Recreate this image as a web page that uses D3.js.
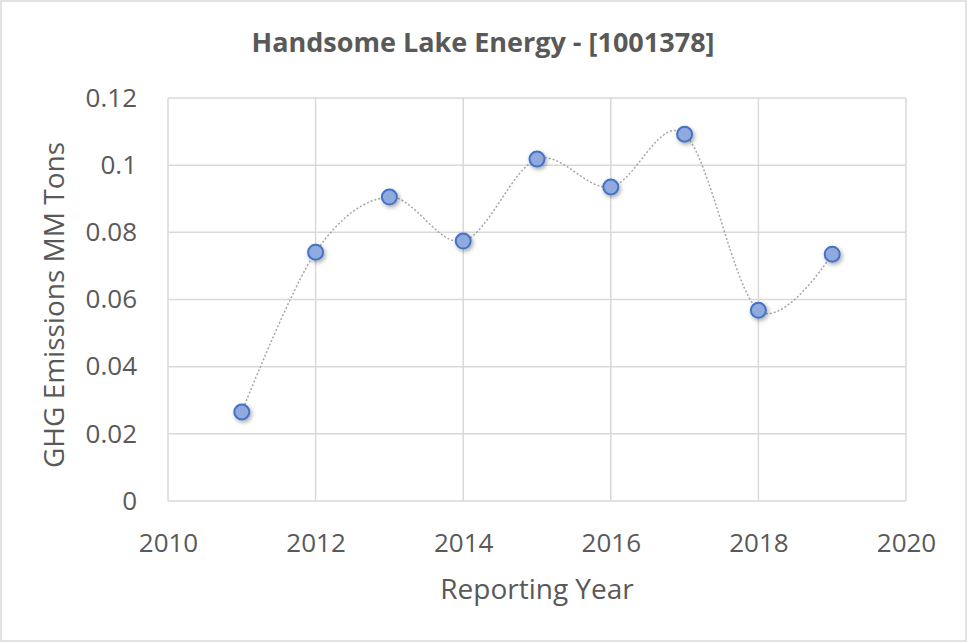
<!DOCTYPE html>
<html>
<head>
<meta charset="utf-8">
<script src="https://cdn.jsdelivr.net/npm/d3@7"></script>
<style>
  body { margin: 0; background: #fff; }
  text { font-family: "Open Sans", sans-serif; fill: #595959; }
</style>
</head>
<body>
<svg id="drawing_region"></svg>
<script>
const years = [2011, 2012, 2013, 2014, 2015, 2016, 2017, 2018, 2019];
const emissions = [0.0265, 0.0741, 0.0905, 0.0774, 0.1018, 0.0935, 0.1092, 0.0568, 0.0735];
const xTicks = [2010, 2012, 2014, 2016, 2018, 2020];
const yTicks = [0, 0.02, 0.04, 0.06, 0.08, 0.1, 0.12];

const config = {
    parent: '#drawing_region',
    width: 968,
    height: 643,
    margin: {top: 98, right: 62, bottom: 142, left: 168}
};

const svg = d3.select(config.parent)
    .attr('width', config.width)
    .attr('height', config.height);

svg.append('rect')
    .attr('x', 1).attr('y', 1)
    .attr('width', config.width - 3).attr('height', config.height - 3)
    .attr('fill', '#fff')
    .attr('stroke', '#d9d9d9')
    .attr('stroke-width', 1.5);

const defs = svg.append('defs');
const f = defs.append('filter').attr('id', 'shadow')
    .attr('x', '-50%').attr('y', '-50%').attr('width', '200%').attr('height', '200%');
f.append('feDropShadow')
    .attr('dx', 1.5).attr('dy', 2).attr('stdDeviation', 2)
    .attr('flood-color', '#000').attr('flood-opacity', 0.35);

const inner_w = config.width - config.margin.left - config.margin.right;
const inner_h = config.height - config.margin.top - config.margin.bottom;

const chart = svg.append('g')
    .attr('transform', `translate(${config.margin.left}, ${config.margin.top})`);

const xscale = d3.scaleLinear().domain([2010, 2020]).range([0, inner_w]);
const yscale = d3.scaleLinear().domain([0, 0.12]).range([inner_h, 0]);

// grid
chart.selectAll('.hgrid')
    .data(yTicks)
    .enter()
    .append('line')
    .attr('x1', 0).attr('x2', inner_w)
    .attr('y1', d => yscale(d)).attr('y2', d => yscale(d))
    .attr('stroke', '#d9d9d9')
    .attr('stroke-width', 1.5);

chart.selectAll('.vgrid')
    .data(xTicks)
    .enter()
    .append('line')
    .attr('x1', d => xscale(d)).attr('x2', d => xscale(d))
    .attr('y1', 0).attr('y2', inner_h)
    .attr('stroke', '#d9d9d9')
    .attr('stroke-width', 1.5);

// axes
const xaxis = d3.axisBottom(xscale).tickValues(xTicks).tickFormat(d3.format('d')).tickSize(0).tickPadding(33);
chart.append('g')
    .attr('transform', `translate(0, ${inner_h})`)
    .call(xaxis)
    .call(g => g.select('.domain').remove())
    .selectAll('text')
    .attr('font-size', '26px')
    .style('font-family', '"Open Sans", sans-serif')
    .attr('fill', '#595959');

const yaxis = d3.axisLeft(yscale).tickValues(yTicks).tickFormat(d => d3.format('')(+d.toFixed(2))).tickSize(0).tickPadding(31);
chart.append('g')
    .call(yaxis)
    .call(g => g.select('.domain').remove())
    .selectAll('text')
    .attr('font-size', '26px')
    .style('font-family', '"Open Sans", sans-serif')
    .attr('fill', '#595959');

// line
const line = d3.line()
    .x((d, i) => xscale(years[i]))
    .y(d => yscale(d))
    .curve(d3.curveCatmullRom.alpha(0));

chart.append('path')
    .datum(emissions)
    .attr('d', line)
    .attr('fill', 'none')
    .attr('stroke', '#a6a6a6')
    .attr('stroke-width', 1.5)
    .attr('stroke-dasharray', '2,2');

chart.selectAll('.dot')
    .data(emissions)
    .enter()
    .append('circle')
    .attr('cx', (d, i) => xscale(years[i]))
    .attr('cy', d => yscale(d))
    .attr('r', 7.5)
    .attr('fill', '#8eaadf')
    .attr('stroke', '#4472c4')
    .attr('stroke-width', 2)
    .attr('filter', 'url(#shadow)');

// titles
svg.append('text')
    .attr('x', 483).attr('y', 52)
    .attr('text-anchor', 'middle')
    .attr('font-size', '27px')
    .attr('font-weight', 'bold')
    .text('Handsome Lake Energy - [1001378]');

svg.append('text')
    .attr('x', 537).attr('y', 599)
    .attr('text-anchor', 'middle')
    .attr('font-size', '28px')
    .text('Reporting Year');

svg.append('text')
    .attr('transform', 'translate(64, 305) rotate(-90)')
    .attr('text-anchor', 'middle')
    .attr('font-size', '28px')
    .text('GHG Emissions MM Tons');
</script>
</body>
</html>
